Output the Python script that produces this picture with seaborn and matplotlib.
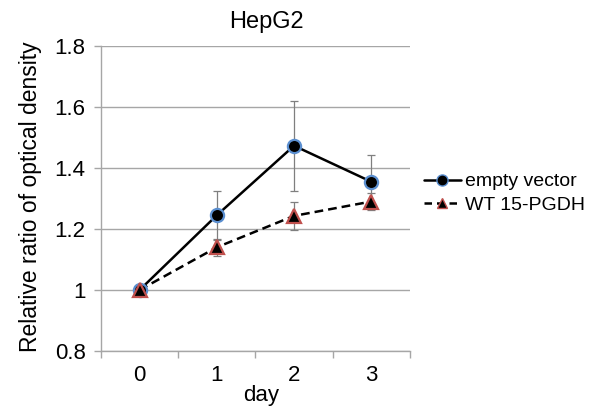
import matplotlib
matplotlib.use("Agg")
import matplotlib.pyplot as plt
import seaborn as sns
import pandas as pd
from matplotlib.lines import Line2D

days = [0, 1, 2, 3]
empty_vector = [1.0, 1.245, 1.473, 1.355]
empty_vector_err = [0.0, 0.08, 0.148, 0.088]
wt_15pgdh = [1.0, 1.14, 1.243, 1.29]
wt_15pgdh_err = [0.0, 0.028, 0.046, 0.028]
series_names = ["empty vector", "WT 15-PGDH"]
y_ticks = [0.8, 1.0, 1.2, 1.4, 1.6, 1.8]
y_tick_labels = ["0.8", "1", "1.2", "1.4", "1.6", "1.8"]

sns.set_theme(style="white")
plt.rcParams["font.family"] = ["Liberation Sans", "DejaVu Sans"]
plt.rcParams["text.color"] = "black"
plt.rcParams["axes.labelcolor"] = "black"
plt.rcParams["xtick.labelcolor"] = "black"
plt.rcParams["ytick.labelcolor"] = "black"

df = pd.DataFrame({
    "day": days * 2,
    "value": empty_vector + wt_15pgdh,
    "err": empty_vector_err + wt_15pgdh_err,
    "series": [series_names[0]] * 4 + [series_names[1]] * 4,
})

fig = plt.figure(figsize=(5.94, 4.07), dpi=100)
ax = fig.add_axes([0.170, 0.1376, 0.520, 0.7494])

grey = "#a6a6a6"
for y in y_ticks:
    ax.axhline(y, color=grey, lw=1.0, zorder=0)

styles = {
    series_names[0]: dict(ls="-", marker="o", mfc="black", mec="#5b8fd0", ms=9.5),
    series_names[1]: dict(ls=(0, (3.5, 2)), marker="^", mfc="black", mec="#c0504d", ms=9.5),
}

for name in series_names:
    sub = df[df["series"] == name]
    ax.errorbar(sub["day"], sub["value"], yerr=sub["err"], fmt="none",
                ecolor="#7f7f7f", elinewidth=0.9, capsize=3, capthick=0.9, zorder=2)
    sns.lineplot(data=sub, x="day", y="value", ax=ax, color="black", lw=1.8,
                 linestyle=styles[name]["ls"], zorder=3, legend=False)
    ax.plot(sub["day"], sub["value"], ls="none", marker=styles[name]["marker"],
            mfc=styles[name]["mfc"], mec=styles[name]["mec"], mew=1.6,
            ms=styles[name]["ms"], zorder=4)

ax.set_xlim(-0.5, 3.5)
ax.set_ylim(0.8, 1.8)
ax.set_yticks(y_ticks)
ax.set_yticklabels(y_tick_labels)
ax.set_xticks(days)
ax.set_xticklabels([str(d) for d in days])
ax.set_xticks([-0.5, 0.5, 1.5, 2.5, 3.5], minor=True)

for s in ["top", "right"]:
    ax.spines[s].set_visible(False)
for s in ["left", "bottom"]:
    ax.spines[s].set_color(grey)
    ax.spines[s].set_linewidth(1.0)

ax.tick_params(axis="y", which="major", length=5, color=grey, width=1.0,
               labelsize=16, pad=6, left=True, labelcolor="black")
ax.tick_params(axis="x", which="major", length=0, labelsize=16, pad=10, labelcolor="black")
ax.tick_params(axis="x", which="minor", length=5, color=grey, width=1.0, bottom=True)

ax.set_xlabel("day", fontsize=16, color="black")
ax.set_ylabel("Relative ratio of optical density", fontsize=16.5, color="black")
ax.yaxis.set_label_coords(-0.19, 0.505)
ax.xaxis.set_label_coords(0.52, -0.11)
fig.text(0.448, 0.947, "HepG2", fontsize=17, ha="center", va="center", color="black")

handles = [
    Line2D([], [], color="black", lw=1.8, ls="-", marker="o", mfc="black",
           mec="#5b8fd0", mew=1.0, ms=8),
    Line2D([], [], color="black", lw=1.8, ls=(0, (3, 2)), marker="^", mfc="black",
           mec="#c0504d", mew=1.0, ms=7.5),
]
leg = fig.legend(handles, series_names, loc="center left", bbox_to_anchor=(0.713, 0.525),
                 frameon=False, fontsize=14, handlelength=1.95, handletextpad=0.2,
                 labelspacing=0.3, borderaxespad=0, borderpad=0)
for t in leg.get_texts():
    t.set_color("black")

fig.savefig("out.png", dpi=100)
